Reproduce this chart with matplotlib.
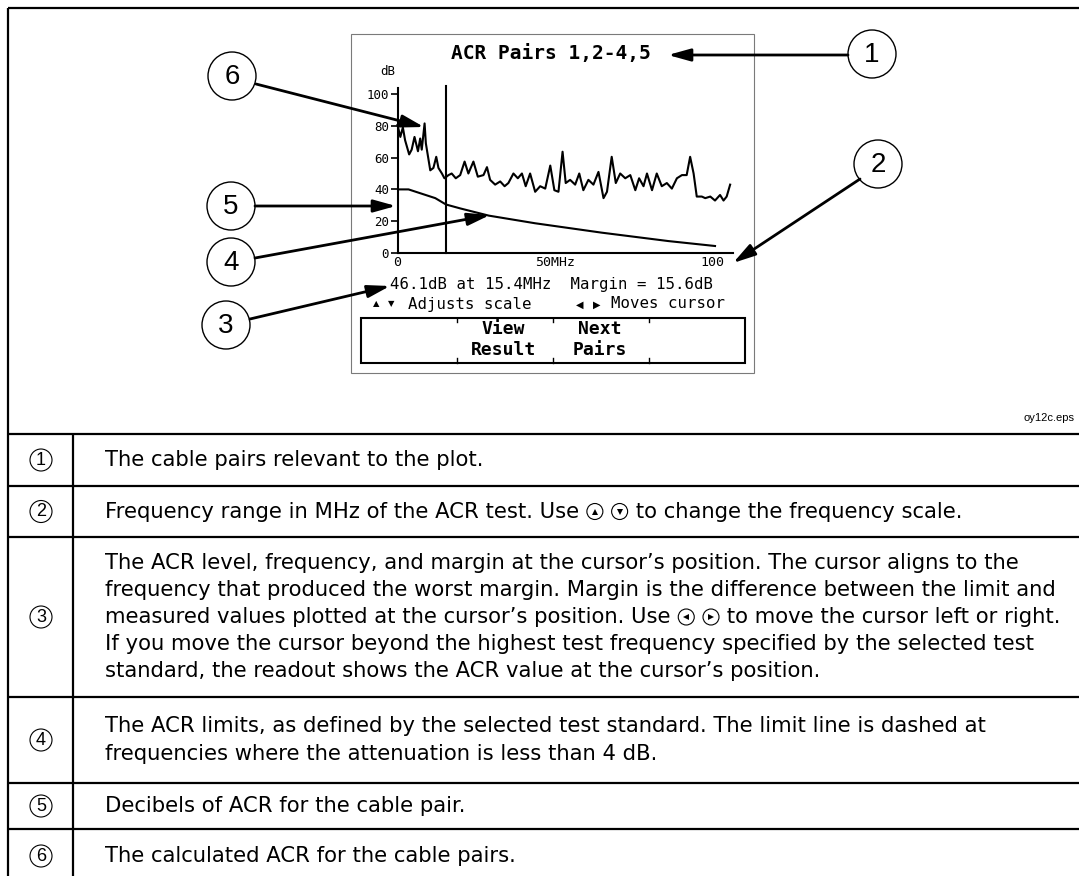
import matplotlib
matplotlib.use('Agg')
import matplotlib.pyplot as plt
from matplotlib.patches import Circle, Rectangle

# ---------------- data ----------------
freq_mhz = [0.0, 0.9, 1.7, 2.4, 3.7, 4.5, 5.4, 6.5, 7.2, 7.7, 8.6, 9.0, 10.4, 11.4, 12.3,
            13.0, 14.1, 14.9, 16.2, 17.2, 18.5, 19.9, 21.3, 22.5, 24.1, 25.5, 27.3, 28.4,
            29.4, 31.0, 32.6, 34.0, 35.2, 36.8, 38.2, 39.5, 40.7, 42.1, 43.7, 45.3, 46.9,
            48.5, 49.8, 51.1, 52.4, 53.4, 54.8, 56.4, 57.7, 59.0, 60.6, 62.2, 63.8, 65.4,
            66.5, 68.0, 69.3, 70.7, 72.3, 73.9, 75.5, 76.7, 78.1, 79.2, 80.8, 82.3, 83.9,
            85.5, 87.1, 88.7, 90.3, 91.8, 92.9, 94.0, 95.0, 96.6, 97.7, 99.3, 100.8, 102.4,
            103.5, 104.5, 105.6]
acr_db = [80.5, 73, 79, 71, 62, 65, 73, 64, 72, 65, 81.5, 69, 52, 53.5, 60.5,
          53.5, 50, 47, 49, 50, 47, 49, 57.5, 50, 57.5, 48, 49, 54,
          46, 43, 45, 42, 44, 50, 47, 50, 42, 50, 38.5, 42, 40.5,
          55, 39.5, 38.5, 63.7, 44, 46, 43, 50, 39.5, 46, 43, 51, 34.5,
          38.5, 60.5, 44, 50, 47, 49, 39.5, 47, 42, 50, 39.5, 50, 42,
          44, 40.5, 47, 49, 49, 60.5, 50, 35.5, 35.5, 34.5, 35.5, 33, 36.5,
          33, 35.5, 43]
limit_freq = [0.5, 3.5, 12.0, 15.4, 20.0, 29.0, 43.7, 64.8, 86.0, 100.8]
limit_db = [40.0, 40.0, 34.5, 30.5, 28.0, 23.5, 18.7, 12.8, 7.5, 4.4]
cursor_freq = 15.4
y_ticks = [0, 20, 40, 60, 80, 100]
x_ticks = [0, 50, 100]
x_tick_labels = ['0', '50MHz', '100']

title = 'ACR Pairs 1,2-4,5'
readout = '46.1dB at 15.4MHz  Margin = 15.6dB'

table_rows = [
    ['The cable pairs relevant to the plot.'],
    ['Frequency range in MHz of the ACR test. Use {UP} {DOWN} to change the frequency scale.'],
    ['The ACR level, frequency, and margin at the cursor\u2019s position. The cursor aligns to the',
     'frequency that produced the worst margin. Margin is the difference between the limit and',
     'measured values plotted at the cursor\u2019s position. Use {LEFT} {RIGHT} to move the cursor left or right.',
     'If you move the cursor beyond the highest test frequency specified by the selected test',
     'standard, the readout shows the ACR value at the cursor\u2019s position.'],
    ['The ACR limits, as defined by the selected test standard. The limit line is dashed at',
     'frequencies where the attenuation is less than 4 dB.'],
    ['Decibels of ACR for the cable pair.'],
    ['The calculated ACR for the cable pairs.'],
]

# ---------------- figure ----------------
W, H = 1079, 876
fig = plt.figure(figsize=(W / 100, H / 100), dpi=100)
page = fig.add_axes([0, 0, 1, 1])
page.set_xlim(0, W)
page.set_ylim(H, 0)
page.axis('off')

MONO = 'DejaVu Sans Mono'
SANS = 'Liberation Sans'
TSANS = 'DejaVu Sans'

# outer frame (top and left)
page.plot([7.5, W], [8, 8], color='black', lw=1.6, solid_capstyle='butt')
page.plot([7.5, 7.5], [8, H], color='black', lw=1.6, solid_capstyle='butt')

# screen frame
page.add_patch(Rectangle((351, 34), 403, 339, fill=False, ec='#7a7a7a', lw=0.8))

# ---------------- chart axes ----------------
x0px, sx = 397.5, 3.15
y0px, sy = 253.0, 1.59
xmax, ymax = 106.5, 104.0
ax = fig.add_axes([x0px / W, (H - y0px) / H, xmax * sx / W, ymax * sy / H])
ax.patch.set_alpha(0)
ax.set_xlim(0, xmax)
ax.set_ylim(0, ymax)
for s in ['top', 'right']:
    ax.spines[s].set_visible(False)
for s in ['left', 'bottom']:
    ax.spines[s].set_linewidth(1.5)
ax.plot(freq_mhz, acr_db, color='black', lw=1.5, clip_on=False)
ax.plot(limit_freq, limit_db, color='black', lw=1.5, clip_on=False)
ax.plot([cursor_freq, cursor_freq], [0, 105], color='black', lw=1.5, clip_on=False)
ax.set_yticks(y_ticks)
ax.set_yticklabels([str(v) for v in y_ticks], family=MONO, fontsize=9)
ax.tick_params(axis='y', direction='out', length=5, width=1.2, pad=1)
ax.set_xticks(x_ticks)
ax.set_xticklabels(x_tick_labels, family=MONO, fontsize=9.5)
ax.tick_params(axis='x', length=0, pad=2)
ax.text(-0.8, 114, 'dB', family=MONO, fontsize=9, ha='right', va='center')

# ---------------- screen texts ----------------
page.text(551, 53, title, ha='center', va='center', family=MONO, weight='bold', fontsize=14)
page.text(390, 285, readout, ha='left', va='center', family=MONO, fontsize=11.3)
page.text(376, 304, '\u25b2', ha='center', va='center', family='DejaVu Sans', fontsize=6)
page.text(391, 304, '\u25bc', ha='center', va='center', family='DejaVu Sans', fontsize=6)
page.text(408, 304, 'Adjusts scale', ha='left', va='center', family=MONO, fontsize=11.3)
page.text(580, 305, '\u25c0', ha='center', va='center', family='DejaVu Sans', fontsize=7)
page.text(597, 305, '\u25b6', ha='center', va='center', family='DejaVu Sans', fontsize=7)
page.text(611, 304, 'Moves cursor', ha='left', va='center', family=MONO, fontsize=11.3)

# softkey box
page.add_patch(Rectangle((361, 318), 384, 45, fill=False, ec='black', lw=1.5))
for xd in [457, 553, 649]:
    page.plot([xd, xd], [318, 322], color='black', lw=1)
    page.plot([xd, xd], [358, 363], color='black', lw=1)
page.text(503, 329, 'View', ha='center', va='center', family=MONO, weight='bold', fontsize=13)
page.text(503, 350, 'Result', ha='center', va='center', family=MONO, weight='bold', fontsize=13)
page.text(600, 329, 'Next', ha='center', va='center', family=MONO, weight='bold', fontsize=13)
page.text(600, 350, 'Pairs', ha='center', va='center', family=MONO, weight='bold', fontsize=13)

# ---------------- callouts ----------------
callouts = {
    '1': ((872, 54), (848, 55), (668, 55)),
    '2': ((878, 164), (860, 179), (733, 263)),
    '3': ((226, 325), (250, 319), (390, 286)),
    '4': ((231, 262), (255, 258), (490, 215)),
    '5': ((231, 206), (255, 206), (396, 206)),
    '6': ((232, 76), (256, 84), (424, 127)),
}
for label, (c, start, tip) in callouts.items():
    page.add_patch(Circle(c, 24, fill=False, ec='black', lw=1.0))
    page.text(c[0], c[1] + 1, label, ha='center', va='center', family=SANS, fontsize=20)
    page.annotate('', xy=tip, xytext=start,
                  arrowprops=dict(arrowstyle='-|>,head_length=0.9,head_width=0.25',
                                  lw=2, color='black', shrinkA=0, shrinkB=0,
                                  mutation_scale=15))

page.text(1074, 418, 'oy12c.eps', ha='right', va='center', family=SANS, fontsize=8)

# ---------------- table ----------------
row_lines = [434, 486, 537, 697, 783, 829]
for yl in row_lines:
    page.plot([7.5, W], [yl, yl], color='black', lw=1.6, solid_capstyle='butt')
page.plot([73, 73], [434, H], color='black', lw=1.6, solid_capstyle='butt')

row_centers = [460, 511.5, 617, 740, 806, 856]
line_gap = 27
TFS = 15.2
fig.canvas.draw()
renderer = fig.canvas.get_renderer()

icon_marker = {'{UP}': '^', '{DOWN}': 'v', '{LEFT}': '<', '{RIGHT}': '>'}


def draw_icon(xc, yc, marker):
    page.add_patch(Circle((xc, yc), 8, fill=False, ec='black', lw=0.8))
    page.plot([xc], [yc], marker=marker, color='black', ms=5, mew=0)


def draw_line(x, y, s):
    parts = []
    buf = s
    while True:
        idx = [(buf.find(k), k) for k in icon_marker if buf.find(k) >= 0]
        if not idx:
            parts.append(buf)
            break
        i, k = min(idx)
        parts.append(buf[:i])
        parts.append(k)
        buf = buf[i + len(k):]
    cx = x
    for p in parts:
        if p in icon_marker:
            draw_icon(cx + 9, y, icon_marker[p])
            cx += 18
        elif p:
            t = page.text(cx, y, p, ha='left', va='center', family=TSANS, fontsize=TFS)
            bb = t.get_window_extent(renderer)
            cx = bb.x1


for i, (lines, yc) in enumerate(zip(table_rows, row_centers)):
    n = len(lines)
    # circled number
    page.add_patch(Circle((41, yc), 11, fill=False, ec='black', lw=0.8))
    page.text(41, yc + 0.5, str(i + 1), ha='center', va='center', family=SANS, fontsize=13)
    for j, s in enumerate(lines):
        y = yc + (j - (n - 1) / 2) * line_gap
        draw_line(105, y, s)

fig.savefig('out.png', dpi=100)
